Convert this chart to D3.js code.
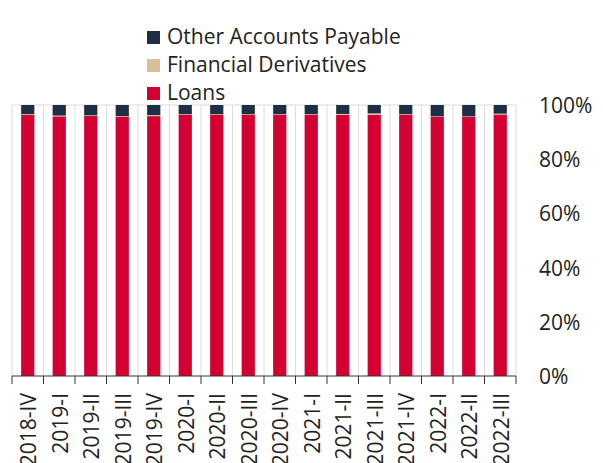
<!DOCTYPE html>
<html>
<head>
<meta charset="utf-8">
<script src="https://cdn.jsdelivr.net/npm/d3@7"></script>
<style>
  body { margin: 0; background: #fff; }
  svg { font-family: "Open Sans", "Noto Sans", sans-serif; }
</style>
</head>
<body>
<svg id="chart" width="603" height="463"></svg>
<script>
const quarters = ['2018-IV', '2019-I', '2019-II', '2019-III', '2019-IV', '2020-I', '2020-II', '2020-III',
    '2020-IV', '2021-I', '2021-II', '2021-III', '2021-IV', '2022-I', '2022-II', '2022-III'];
const otherPayable = [3.4, 3.9, 3.8, 4.1, 3.7, 3.4, 3.4, 3.4, 3.4, 3.4, 3.3, 3.1, 3.4, 4.2, 4.2, 3.2];
const derivatives = [0.3, 0.3, 0.2, 0.2, 0.4, 0.2, 0.2, 0.2, 0.2, 0.2, 0.3, 0.5, 0.2, 0.2, 0.2, 0.3];
const loans = otherPayable.map((d, i) => 100 - d - derivatives[i]);
const yTicks = [0, 20, 40, 60, 80, 100];

const series = [
    { name: 'Loans', values: loans, color: '#d50032' },
    { name: 'Financial Derivatives', values: derivatives, color: '#d7bf9a' },
    { name: 'Other Accounts Payable', values: otherPayable, color: '#1c2f45' }
];

const svg = d3.select('#chart');
const x = d3.scaleBand().domain(quarters).range([12, 516]).paddingInner(0).paddingOuter(0);
const y = d3.scaleLinear().domain([0, 100]).range([376, 105]);

// vertical grid at category boundaries
svg.append('g')
    .selectAll('line')
    .data(d3.range(quarters.length + 1))
    .enter().append('line')
    .attr('x1', (i) => 12 + i * x.step())
    .attr('x2', (i) => 12 + i * x.step())
    .attr('y1', y(100))
    .attr('y2', y(0))
    .attr('stroke', '#dcdcdc')
    .attr('stroke-width', 1);

svg.append('line')
    .attr('x1', 12).attr('x2', 516)
    .attr('y1', y(100)).attr('y2', y(100))
    .attr('stroke', '#dcdcdc');

// stacked bars
const barW = x.bandwidth() * 0.42;
const stacked = quarters.map((q, i) => {
    let base = 0;
    return series.map((s) => {
        const seg = { q: q, y0: base, y1: base + s.values[i], color: s.color };
        base += s.values[i];
        return seg;
    });
});

svg.append('g')
    .selectAll('g')
    .data(stacked)
    .enter().append('g')
    .selectAll('rect')
    .data((d) => d)
    .enter().append('rect')
    .attr('x', (d) => x(d.q) + (x.bandwidth() - barW) / 2)
    .attr('width', barW)
    .attr('y', (d) => y(d.y1))
    .attr('height', (d) => y(d.y0) - y(d.y1))
    .attr('fill', (d) => d.color);

// x axis
const xAxis = svg.append('g')
    .attr('transform', 'translate(0,376)');
xAxis.append('line')
    .attr('x1', 12).attr('x2', 516)
    .attr('stroke', '#333');
xAxis.selectAll('line.tick')
    .data(d3.range(quarters.length + 1))
    .enter().append('line')
    .attr('class', 'tick')
    .attr('x1', (i) => 12 + i * x.step())
    .attr('x2', (i) => 12 + i * x.step())
    .attr('y1', 0).attr('y2', 8)
    .attr('stroke', '#333');
xAxis.selectAll('text')
    .data(quarters)
    .enter().append('text')
    .attr('transform', (d) => 'translate(' + (x(d) + x.bandwidth() / 2 + 8.5) + ',17) rotate(-90)')
    .attr('text-anchor', 'end')
    .style('font-size', '21px')
    .attr('fill', '#222')
    .text((d) => d);

// y axis labels on right
svg.append('g')
    .selectAll('text')
    .data(yTicks)
    .enter().append('text')
    .attr('x', 539)
    .attr('y', (d) => y(d) + 8)
    .style('font-size', '21px')
    .attr('fill', '#222')
    .text((d) => d + '%');

// legend
const legend = svg.append('g')
    .selectAll('g')
    .data(series.slice().reverse())
    .enter().append('g')
    .attr('transform', (d, i) => 'translate(147,' + (37.5 + i * 28) + ')');
legend.append('rect')
    .attr('y', -6.5)
    .attr('width', 13).attr('height', 13)
    .attr('fill', (d) => d.color);
legend.append('text')
    .attr('x', 20)
    .attr('y', 6)
    .style('font-size', '21px')
    .attr('fill', '#222')
    .text((d) => d.name);
</script>
</body>
</html>
